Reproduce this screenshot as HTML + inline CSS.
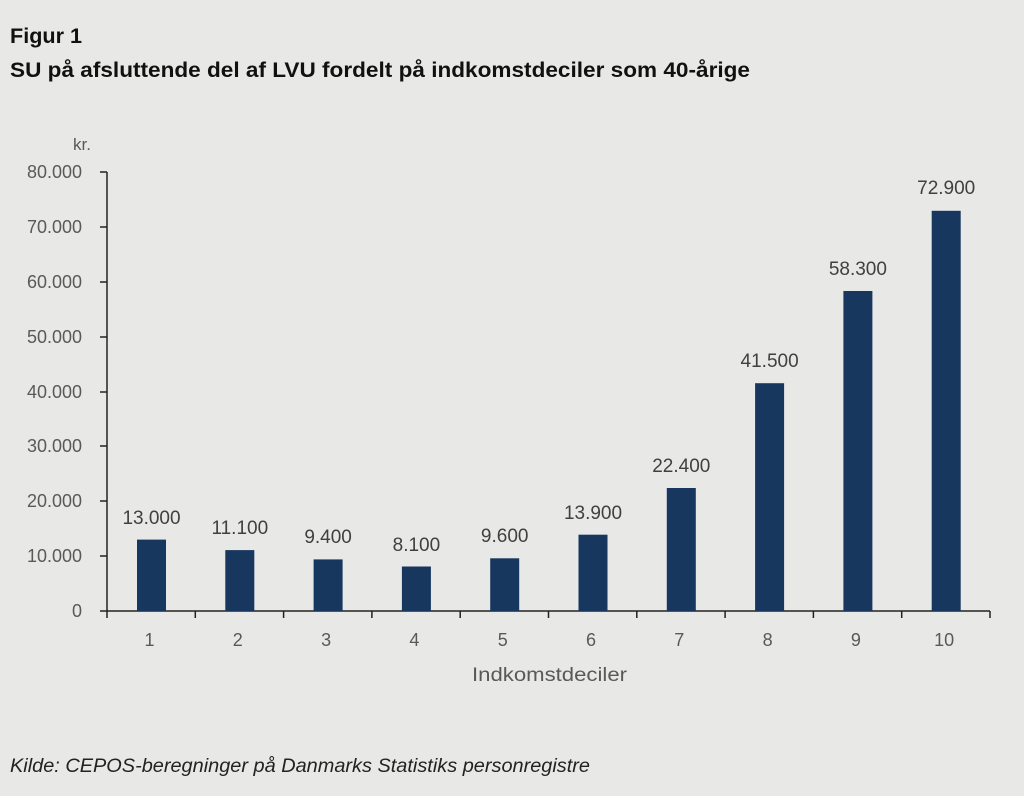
<!DOCTYPE html>
<html><head><meta charset="utf-8"><style>
body{margin:0;background:#e8e8e7;}
svg{display:block}
text{font-family:"Liberation Sans",sans-serif;}
</style></head><body>
<svg width="1024" height="796" viewBox="0 0 1024 796">
<rect width="1024" height="796" fill="#e8e8e7"/>
<text x="10" y="43" font-size="21" font-weight="bold" fill="#111" textLength="72" lengthAdjust="spacingAndGlyphs">Figur 1</text>
<text x="10" y="77" font-size="21" font-weight="bold" fill="#111" textLength="740" lengthAdjust="spacingAndGlyphs">SU på afsluttende del af LVU fordelt på indkomstdeciler som 40-årige</text>
<text x="91" y="150" font-size="17" fill="#595959" text-anchor="end">kr.</text>
<g font-size="18" fill="#595959" text-anchor="end">
<text x="82" y="178">80.000</text><text x="82" y="233">70.000</text><text x="82" y="288">60.000</text><text x="82" y="343">50.000</text><text x="82" y="398">40.000</text><text x="82" y="452">30.000</text><text x="82" y="507">20.000</text><text x="82" y="562">10.000</text><text x="82" y="617">0</text>
</g>
<g stroke="#222" stroke-width="1.5">
<line x1="107" y1="172" x2="107" y2="611"/>
<line x1="107" y1="611" x2="990" y2="611"/>
<line x1="100" y1="172" x2="107" y2="172"/><line x1="100" y1="227" x2="107" y2="227"/><line x1="100" y1="282" x2="107" y2="282"/><line x1="100" y1="337" x2="107" y2="337"/><line x1="100" y1="392" x2="107" y2="392"/><line x1="100" y1="446" x2="107" y2="446"/><line x1="100" y1="501" x2="107" y2="501"/><line x1="100" y1="556" x2="107" y2="556"/><line x1="100" y1="611" x2="107" y2="611"/>
<line x1="107" y1="611" x2="107" y2="618"/><line x1="195.3" y1="611" x2="195.3" y2="618"/><line x1="283.6" y1="611" x2="283.6" y2="618"/><line x1="371.9" y1="611" x2="371.9" y2="618"/><line x1="460.2" y1="611" x2="460.2" y2="618"/><line x1="548.5" y1="611" x2="548.5" y2="618"/><line x1="636.8" y1="611" x2="636.8" y2="618"/><line x1="725.1" y1="611" x2="725.1" y2="618"/><line x1="813.4" y1="611" x2="813.4" y2="618"/><line x1="901.7" y1="611" x2="901.7" y2="618"/><line x1="990" y1="611" x2="990" y2="618"/>
</g>
<g fill="#17375e">
<rect x="137" y="539.6" width="29" height="71.4"/>
<rect x="225.3" y="550.1" width="29" height="60.9"/>
<rect x="313.6" y="559.4" width="29" height="51.6"/>
<rect x="401.9" y="566.5" width="29" height="44.5"/>
<rect x="490.2" y="558.3" width="29" height="52.7"/>
<rect x="578.5" y="534.7" width="29" height="76.3"/>
<rect x="666.8" y="488" width="29" height="123"/>
<rect x="755.1" y="383.2" width="29" height="227.8"/>
<rect x="843.4" y="291" width="29" height="320"/>
<rect x="931.7" y="210.8" width="29" height="400.2"/>
</g>
<g font-size="19" fill="#404040" text-anchor="middle">
<text x="151.5" y="524">13.000</text><text x="239.8" y="534">11.100</text><text x="328.1" y="543">9.400</text><text x="416.4" y="551">8.100</text><text x="504.7" y="542">9.600</text><text x="593" y="519">13.900</text><text x="681.3" y="472">22.400</text><text x="769.6" y="367">41.500</text><text x="857.9" y="275">58.300</text><text x="946.2" y="194">72.900</text>
</g>
<g font-size="18" fill="#595959" text-anchor="middle">
<text x="149.5" y="646">1</text><text x="237.8" y="646">2</text><text x="326.1" y="646">3</text><text x="414.4" y="646">4</text><text x="502.7" y="646">5</text><text x="591" y="646">6</text><text x="679.3" y="646">7</text><text x="767.6" y="646">8</text><text x="855.9" y="646">9</text><text x="944.2" y="646">10</text>
<text x="549.5" y="681" font-size="19" textLength="155" lengthAdjust="spacingAndGlyphs">Indkomstdeciler</text>
</g>
<text x="10" y="772" font-size="19" font-style="italic" fill="#222" textLength="580" lengthAdjust="spacingAndGlyphs">Kilde: CEPOS-beregninger på Danmarks Statistiks personregistre</text>
</svg>
</body></html>
